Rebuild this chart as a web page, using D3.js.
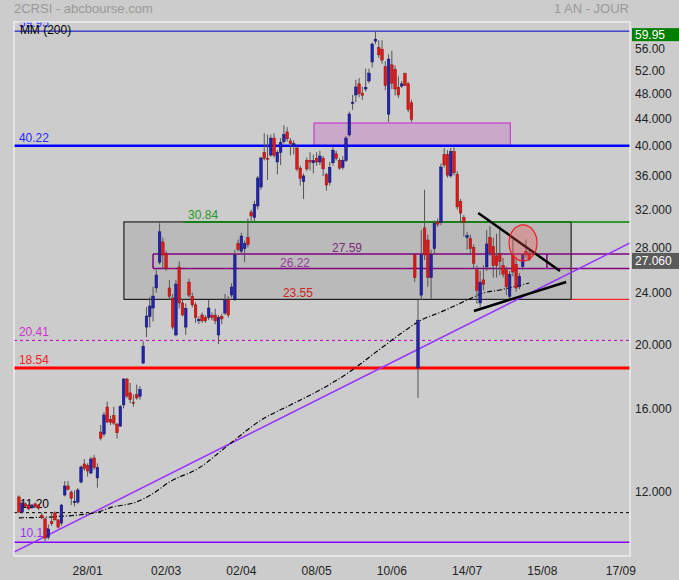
<!DOCTYPE html>
<html>
<head>
<meta charset="utf-8">
<script src="https://cdn.jsdelivr.net/npm/d3@7"></script>
<style>
body { margin: 0; background: #cccccc; }
svg { display: block; font-family: "Liberation Sans", Arial, sans-serif; }
</style>
</head>
<body>
<svg></svg>
<script>
// daily candles, index 0 .. 156
var openP = [11.83, 11.22, 11.55, 11.5, 11.4, 11.55, 11.5, 11.1, 10.96, 10.28,
  10.86, 11.19, 10.92, 10.8, 11.91, 12.29, 12.03, 11.6, 11.62, 12.46,
  13.27, 13.2, 12.86, 13.55, 12.64, 14.83, 14.73, 16.18, 15.5, 15.7,
  15.25, 15.14, 16.3, 17.84, 17.0, 16.45, 16.9, 16.8, 18.86, 21.38,
  22.18, 22.85, 24.5, 26.8, 28.76, 27.6, 24.5, 23.66, 20.8, 26.36,
  23.25, 21.38, 25.0, 23.8, 23.1, 21.85, 22.3, 22.1, 22.1, 22.25,
  22.3, 20.8, 22.2, 22.45, 23.5, 23.91, 23.53, 28.6, 27.85, 28.1,
  29.2, 31.92, 31.3, 32.6, 34.83, 39.3, 38.5, 38.94, 41.3, 38.0,
  39.3, 40.8, 42.2, 40.9, 40.3, 39.9, 37.2, 35.5, 38.2, 38.2,
  37.9, 38.5, 38.0, 38.5, 36.37, 35.4, 37.9, 39.1, 38.2, 37.3,
  38.2, 41.75, 46.6, 47.99, 49.9, 48.3, 49.0, 50.4, 53.84, 57.9,
  56.6, 56.3, 53.0, 44.9, 53.3, 52.5, 49.3, 49.5, 51.7, 49.9,
  46.7, 27.5, 18.54, 23.9, 30.2, 28.95, 25.4, 28.1, 30.85, 30.8,
  39.0, 39.0, 36.2, 39.4, 36.4, 33.1, 31.3, 29.2, 29.1, 28.2,
  26.1, 23.25, 25.2, 26.36, 29.2, 28.3, 27.4, 27.6, 26.5, 26.1,
  23.8, 27.5, 26.6, 24.6, 26.4, 27.8, 27.6];
var highP = [11.9, 11.65, 11.6, 11.55, 11.55, 11.6, 11.55, 11.2, 11.0, 10.75,
  11.2, 11.25, 10.95, 11.55, 12.5, 12.5, 12.1, 12.1, 12.2, 13.2,
  13.5, 13.3, 13.6, 13.7, 13.3, 15.2, 15.9, 16.5, 15.7, 16.2,
  15.3, 16.3, 17.9, 17.9, 17.6, 16.9, 17.5, 17.4, 20.35, 22.93,
  23.74, 24.6, 26.1, 30.7, 29.2, 27.9, 25.2, 24.0, 25.2, 26.9,
  23.6, 23.2, 25.3, 24.1, 23.3, 22.2, 22.5, 22.3, 23.5, 22.5,
  22.8, 22.3, 22.4, 24.0, 23.8, 24.9, 28.0, 29.0, 29.7, 28.9,
  31.2, 32.2, 33.2, 36.2, 38.7, 42.0, 41.8, 41.8, 42.0, 39.6,
  41.3, 43.2, 42.9, 41.3, 41.0, 40.2, 37.5, 36.5, 38.6, 39.3,
  39.0, 39.3, 39.5, 38.8, 36.6, 38.0, 40.0, 39.5, 38.5, 38.8,
  41.6, 45.3, 48.0, 50.6, 50.9, 49.4, 52.6, 52.6, 57.6, 59.95,
  58.1, 58.1, 54.0, 55.3, 56.0, 53.2, 51.2, 50.4, 51.9, 50.2,
  47.2, 27.6, 23.5, 30.0, 34.5, 29.5, 28.0, 31.0, 31.2, 37.8,
  39.9, 39.6, 39.9, 40.0, 36.8, 33.4, 31.6, 29.8, 29.5, 28.5,
  26.5, 26.0, 26.5, 30.0, 30.4, 29.2, 29.6, 30.4, 27.2, 26.4,
  26.0, 29.0, 27.3, 25.8, 27.6, 29.0, 27.9];
var lowP = [11.2, 11.2, 11.4, 11.3, 11.35, 11.4, 11.3, 10.95, 10.15, 10.2,
  10.7, 10.9, 10.6, 10.7, 11.85, 12.1, 11.5, 11.45, 11.55, 12.4,
  12.95, 12.7, 12.8, 13.0, 12.22, 14.4, 14.6, 15.3, 15.2, 15.2,
  14.5, 15.1, 16.1, 16.7, 16.4, 16.2, 16.6, 16.6, 18.8, 20.65,
  21.35, 21.8, 24.1, 26.6, 26.2, 26.0, 23.5, 21.2, 20.7, 22.8,
  22.2, 20.8, 23.7, 22.9, 21.7, 21.6, 21.7, 21.7, 21.9, 21.9,
  21.6, 20.15, 21.6, 22.3, 22.1, 23.7, 23.4, 27.8, 27.6, 26.8,
  28.2, 30.8, 30.9, 32.2, 34.5, 38.2, 35.7, 38.7, 38.6, 36.4,
  37.6, 40.5, 40.8, 38.9, 39.0, 36.8, 35.0, 33.4, 36.8, 36.9,
  36.5, 37.5, 37.6, 36.2, 34.4, 35.0, 37.5, 38.2, 37.0, 37.0,
  38.0, 41.5, 45.6, 46.8, 47.6, 47.2, 48.6, 50.0, 52.8, 57.3,
  54.6, 53.5, 48.8, 43.7, 49.0, 47.9, 47.5, 49.2, 49.5, 45.2,
  43.7, 25.0, 16.7, 23.5, 27.0, 24.6, 23.6, 27.5, 30.3, 30.5,
  37.3, 36.0, 36.0, 36.3, 32.2, 30.7, 29.3, 28.0, 27.6, 26.2,
  23.2, 22.9, 24.3, 26.0, 27.4, 25.4, 25.4, 25.6, 25.4, 23.9,
  23.5, 25.5, 24.2, 24.4, 26.1, 27.2, 26.9];
var closeP = [11.22, 11.58, 11.45, 11.35, 11.5, 11.45, 11.38, 11.0, 10.25, 10.58,
  10.78, 10.92, 10.65, 11.5, 12.29, 12.15, 11.78, 11.65, 12.12, 13.13,
  13.06, 12.95, 13.5, 13.1, 13.1, 14.52, 15.74, 15.36, 15.35, 15.3,
  14.8, 16.2, 17.84, 16.81, 16.6, 16.4, 16.7, 17.2, 20.0, 22.22,
  23.01, 23.82, 25.63, 29.8, 27.48, 26.2, 23.8, 21.38, 24.84, 23.25,
  22.3, 22.8, 23.9, 23.1, 22.1, 21.95, 21.85, 21.85, 22.85, 22.1,
  21.85, 22.1, 22.0, 23.49, 22.3, 24.58, 27.48, 28.0, 29.36, 28.6,
  28.5, 31.48, 32.8, 35.94, 38.53, 38.5, 38.4, 41.3, 38.9, 39.3,
  40.7, 41.8, 41.2, 40.5, 40.5, 37.08, 35.9, 36.2, 37.1, 38.0,
  38.2, 38.0, 38.8, 37.1, 35.07, 37.3, 39.6, 38.5, 37.2, 38.2,
  41.3, 44.92, 46.8, 49.35, 48.2, 47.95, 49.3, 51.8, 57.32, 58.3,
  55.2, 54.2, 49.6, 54.4, 50.0, 49.0, 48.0, 49.9, 49.6, 45.6,
  44.1, 25.4, 21.9, 27.5, 27.5, 25.4, 27.5, 30.7, 30.6, 37.34,
  37.6, 36.3, 39.4, 36.6, 32.5, 31.8, 30.8, 29.4, 28.1, 26.7,
  24.3, 25.0, 24.8, 28.56, 27.7, 26.5, 26.5, 26.9, 25.7, 24.6,
  25.7, 25.9, 24.5, 25.5, 27.5, 27.5, 27.06];

// MM (200), read at a few candles
var maIdx = [0, 12, 24, 28, 36, 41, 46, 55, 64, 74, 83, 92, 101, 110, 117, 123, 129, 137, 142, 147, 156];
var maVal = [11.0, 11.05, 11.22, 11.4, 11.63, 11.97, 12.46, 13.08, 14.17, 15.46, 16.3, 17.17, 18.28, 19.74, 20.94, 21.91, 22.53, 23.49, 24.08, 24.33, 24.93];

var dateLabels = ["28/01", "02/03", "02/04", "08/05", "10/06", "14/07", "15/08", "17/09"];
var dateIdx = [21, 45, 68, 91, 114, 137, 160, 184];

var yTicks = [56, 52, 48, 44, 40, 36, 32, 28, 24, 20, 16, 12];
var yTickLabels = ["56.00", "52.00", "48.000", "44.000", "40.000", "36.000", "32.000", "28.000", "24.000", "20.000", "16.000", "12.000"];

var levels = [59.95, 40.22, 30.84, 27.59, 26.22, 23.55, 20.41, 18.54, 11.20, 10.10];
var levelLabels = ["59.95", "40.22", "30.84", "27.59", "26.22", "23.55", "20.41", "18.54", "11.20", "10.10"];
var lastPrice = 27.06;
var maxPrice = 59.95;

// drawn objects (candle index, price)
var grayBoxIdx = [32.1, 168.8], grayBoxVal = [30.84, 23.55];
var purpleBoxIdx = [41, 161.4], purpleBoxVal = [27.59, 26.22];
var pinkBoxIdx = [90.2, 150.2], pinkBoxVal = [40.22, 43.53];
var trendIdx = [-1.5, 186.8], trendVal = [9.76, 28.66];
var upperIdx = [140.4, 165.4], upperVal = [31.81, 25.99];
var lowerIdx = [139.1, 167.3], lowerVal = [22.61, 25.02];
var circleIdx = 154.1, circleVal = 28.66;

var svgWidth = 679;
var svgHeight = 580;
var plotLeft = 14, plotRight = 630, plotTop = 22, plotBottom = 556;

var svg = d3.select("svg")
    .attr("width", svgWidth)
    .attr("height", svgHeight);

svg.append("rect")
    .attr("width", svgWidth)
    .attr("height", svgHeight)
    .attr("fill", "#cccccc");

var xScale = d3.scaleLinear()
    .domain([-1.5, 186.8])
    .range([plotLeft, plotRight]);

var yScale = d3.scaleLog()
    .domain([9.63, 61.89])
    .range([plotBottom, plotTop]);

svg.append("clipPath")
    .attr("id", "clip")
    .append("rect")
    .attr("x", plotLeft)
    .attr("y", plotTop)
    .attr("width", plotRight - plotLeft)
    .attr("height", plotBottom - plotTop);

var plot = svg.append("g").attr("clip-path", "url(#clip)");

// zones
plot.append("rect")
    .attr("x", xScale(grayBoxIdx[0]))
    .attr("y", yScale(grayBoxVal[0]))
    .attr("width", xScale(grayBoxIdx[1]) - xScale(grayBoxIdx[0]))
    .attr("height", yScale(grayBoxVal[1]) - yScale(grayBoxVal[0]))
    .attr("fill", "#bababa")
    .attr("stroke", "#000")
    .attr("stroke-width", 1);

plot.append("rect")
    .attr("x", xScale(pinkBoxIdx[0]))
    .attr("y", yScale(pinkBoxVal[1]))
    .attr("width", xScale(pinkBoxIdx[1]) - xScale(pinkBoxIdx[0]))
    .attr("height", yScale(pinkBoxVal[0]) - yScale(pinkBoxVal[1]))
    .attr("fill", "#c9a9c9")
    .attr("stroke", "#cc22cc")
    .attr("stroke-width", 1);

function hline(v, x0, x1, color, width, dash) {
    plot.append("line")
        .attr("x1", x0)
        .attr("x2", x1)
        .attr("y1", yScale(v))
        .attr("y2", yScale(v))
        .attr("stroke", color)
        .attr("stroke-width", width)
        .attr("stroke-dasharray", dash || null);
}

hline(levels[0], plotLeft, plotRight, "#0000cc", 1);
hline(levels[1], plotLeft, plotRight, "#0000ff", 2.5);
hline(levels[2], xScale(50.2), plotRight, "#008800", 1.5);
hline(levels[3], xScale(purpleBoxIdx[0]), plotRight, "#800080", 1.5);
hline(levels[4], xScale(purpleBoxIdx[0]), plotRight, "#800080", 1.5);
hline(levels[5], xScale(grayBoxIdx[1]), plotRight, "#ff0000", 1);
hline(levels[6], plotLeft, plotRight, "#bb00bb", 1, "3,3");
hline(levels[7], plotLeft, plotRight, "#ff0000", 3);
hline(levels[8], plotLeft, plotRight, "#000000", 1, "3,3");
hline(levels[9], plotLeft, plotRight, "#8800ff", 1.5);

// purple box right side
plot.append("line")
    .attr("x1", xScale(purpleBoxIdx[1]))
    .attr("x2", xScale(purpleBoxIdx[1]))
    .attr("y1", yScale(purpleBoxVal[0]))
    .attr("y2", yScale(purpleBoxVal[1]))
    .attr("stroke", "#800080")
    .attr("stroke-width", 1.5);
plot.append("line")
    .attr("x1", xScale(purpleBoxIdx[0]))
    .attr("x2", xScale(purpleBoxIdx[0]))
    .attr("y1", yScale(purpleBoxVal[0]))
    .attr("y2", yScale(purpleBoxVal[1]))
    .attr("stroke", "#800080")
    .attr("stroke-width", 1.5);

// level labels
var labelStyle = [
    [0, -4, "#3333ff"], [0, -4, "#2a2aff"], [51.7, -3, "#229922"],
    [95.7, -2, "#7a2a7a"], [79.8, -2, "#9a3a9a"], [80.7, -2, "#cc2222"],
    [0, -4, "#cc33cc"], [0, -4, "#ee2222"], [0.3, -5, "#000000"], [0.3, -5, "#9933ee"]
];
levels.forEach(function(v, k) {
    plot.append("text")
        .attr("x", xScale(labelStyle[k][0]))
        .attr("y", yScale(v) + labelStyle[k][1])
        .attr("font-size", 12)
        .attr("fill", labelStyle[k][2])
        .text(levelLabels[k]);
});

plot.append("text")
    .attr("x", xScale(0.3))
    .attr("y", 34)
    .attr("font-size", 12)
    .attr("fill", "#000")
    .text("MM (200)");

// trend line
plot.append("line")
    .attr("x1", xScale(trendIdx[0]))
    .attr("y1", yScale(trendVal[0]))
    .attr("x2", xScale(trendIdx[1]))
    .attr("y2", yScale(trendVal[1]))
    .attr("stroke", "#9933ff")
    .attr("stroke-width", 1.5);

// moving average
var maLine = d3.line()
    .x(function(d) { return xScale(maIdx[d]); })
    .y(function(d) { return yScale(maVal[d]); })
    .curve(d3.curveMonotoneX);

plot.append("path")
    .attr("d", maLine(d3.range(maIdx.length)))
    .attr("fill", "none")
    .attr("stroke", "#000")
    .attr("stroke-width", 1.2)
    .attr("stroke-dasharray", "5,2,1,2");

// candles
var candles = plot.selectAll("g.candle")
    .data(d3.range(openP.length))
    .enter()
    .append("g")
    .attr("class", "candle");

candles.append("line")
    .attr("x1", function(i) { return xScale(i); })
    .attr("x2", function(i) { return xScale(i); })
    .attr("y1", function(i) { return yScale(highP[i]); })
    .attr("y2", function(i) { return yScale(lowP[i]); })
    .attr("stroke", "#555")
    .attr("stroke-width", 1);

candles.append("rect")
    .attr("x", function(i) { return xScale(i) - 1.3; })
    .attr("width", 2.6)
    .attr("y", function(i) { return yScale(Math.max(openP[i], closeP[i])); })
    .attr("height", function(i) {
        return Math.max(1, Math.abs(yScale(openP[i]) - yScale(closeP[i])));
    })
    .attr("fill", function(i) { return closeP[i] >= openP[i] ? "#2323b0" : "#e01818"; })
    .attr("stroke", function(i) { return closeP[i] >= openP[i] ? "#101060" : "#901010"; })
    .attr("stroke-width", 0.5);

// triangle
[[upperIdx, upperVal], [lowerIdx, lowerVal]].forEach(function(t) {
    plot.append("line")
        .attr("x1", xScale(t[0][0]))
        .attr("y1", yScale(t[1][0]))
        .attr("x2", xScale(t[0][1]))
        .attr("y2", yScale(t[1][1]))
        .attr("stroke", "#000")
        .attr("stroke-width", 2.5);
});

plot.append("ellipse")
    .attr("cx", xScale(circleIdx))
    .attr("cy", yScale(circleVal))
    .attr("rx", 14)
    .attr("ry", 18)
    .attr("fill", "#ff5050")
    .attr("fill-opacity", 0.3)
    .attr("stroke", "#ee2020")
    .attr("stroke-width", 1.2);

// frame
svg.append("rect")
    .attr("x", plotLeft)
    .attr("y", plotTop)
    .attr("width", plotRight - plotLeft)
    .attr("height", plotBottom - plotTop)
    .attr("fill", "none")
    .attr("stroke", "#ffffff")
    .attr("stroke-width", 1);

// header
svg.append("text")
    .attr("x", plotLeft)
    .attr("y", 13)
    .attr("font-size", 13)
    .attr("fill", "#999")
    .text("2CRSI - abcbourse.com");

svg.append("text")
    .attr("x", 629)
    .attr("y", 13)
    .attr("font-size", 13)
    .attr("fill", "#999")
    .attr("text-anchor", "end")
    .text("1 AN - JOUR");

// right axis
var yAxisG = svg.append("g");
yTicks.forEach(function(v, k) {
    yAxisG.append("text")
        .attr("x", 635)
        .attr("y", yScale(v) - 1.5)
        .attr("dy", "0.35em")
        .attr("font-size", 12)
        .attr("fill", "#222")
        .text(yTickLabels[k]);
});

yAxisG.append("rect")
    .attr("x", 632)
    .attr("y", yScale(maxPrice) - 3)
    .attr("width", 47)
    .attr("height", 13)
    .attr("fill", "#008000");
yAxisG.append("text")
    .attr("x", 635)
    .attr("y", yScale(maxPrice) + 3.5)
    .attr("dy", "0.35em")
    .attr("font-size", 12)
    .attr("fill", "#fff")
    .text(maxPrice.toFixed(2));

yAxisG.append("rect")
    .attr("x", 632)
    .attr("y", yScale(lastPrice) - 6.5)
    .attr("width", 47)
    .attr("height", 16)
    .attr("fill", "#5a5a5a");
yAxisG.append("text")
    .attr("x", 635)
    .attr("y", yScale(lastPrice) + 1.5)
    .attr("dy", "0.35em")
    .attr("font-size", 12)
    .attr("fill", "#fff")
    .text(lastPrice.toFixed(3));

// bottom axis
dateLabels.forEach(function(t, k) {
    svg.append("text")
        .attr("x", xScale(dateIdx[k]))
        .attr("y", 575)
        .attr("text-anchor", "middle")
        .attr("font-size", 12)
        .attr("fill", "#222")
        .text(t);
});
</script>
</body>
</html>
